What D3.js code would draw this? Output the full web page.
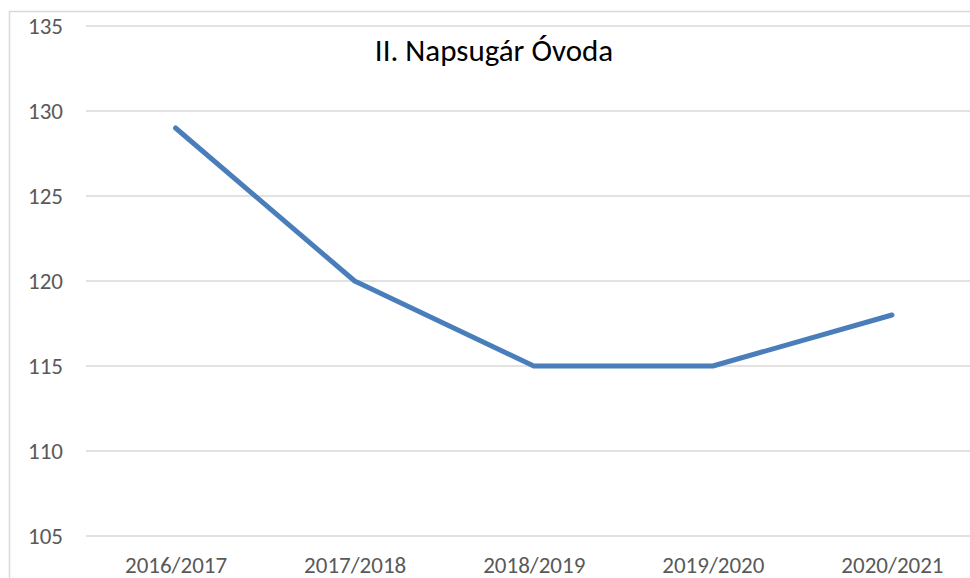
<!DOCTYPE html>
<html><head><meta charset="utf-8">
<script src="https://cdn.jsdelivr.net/npm/d3@7"></script>
<style>body{margin:0;background:#fff;}svg{display:block;}</style>
</head><body>
<svg id="c" width="970" height="578"></svg>
<script>
const categories = ["2016/2017","2017/2018","2018/2019","2019/2020","2020/2021"];
const values = [129,120,115,115,118];
const yTicks = [105,110,115,120,125,130,135];
const title = "II. Napsugár Óvoda";

(function(){
const svg = d3.select("#c");
const font = "Carlito, Calibri, 'Open Sans', 'Noto Sans', sans-serif";
svg.append("rect").attr("x",9.5).attr("y",11.5).attr("width",1000).attr("height",600)
  .attr("fill","none").attr("stroke","#d9d9d9").attr("stroke-width",1.5);

const mL = 86, mR = 981.5, mT = 26, mB = 536;
const x = d3.scalePoint().domain(categories).range([mL, mR]).padding(0.5);
const y = d3.scaleLinear().domain([105,135]).range([mB, mT]);

svg.append("g").selectAll("line").data(yTicks).join("line")
  .attr("x1",mL).attr("x2",mR)
  .attr("y1",d=>y(d)).attr("y2",d=>y(d))
  .attr("stroke","#d9d9d9").attr("stroke-width",1.5);

const yAxis = svg.append("g").attr("transform",`translate(${mL},0)`)
  .call(d3.axisLeft(y).tickValues(yTicks).tickSize(0).tickPadding(23));
yAxis.select(".domain").remove();
yAxis.selectAll("text").attr("font-family",font).attr("font-size",23).attr("fill","#595959");

const xAxis = svg.append("g").attr("transform",`translate(0,${mB})`)
  .call(d3.axisBottom(x).tickSize(0).tickPadding(21));
xAxis.select(".domain").remove();
xAxis.selectAll("text").attr("font-family",font).attr("font-size",23).attr("fill","#595959");

const line = d3.line().x((d,i)=>x(categories[i])).y(d=>y(d));
svg.append("path").datum(values).attr("d",line)
  .attr("fill","none").attr("stroke","#4a7ebb").attr("stroke-width",5)
  .attr("stroke-linecap","round").attr("stroke-linejoin","round");

svg.append("text").attr("x",494).attr("y",61).attr("text-anchor","middle")
  .attr("font-family",font).attr("font-size",31).attr("fill","#000").text(title);
})();
</script>
</body></html>
